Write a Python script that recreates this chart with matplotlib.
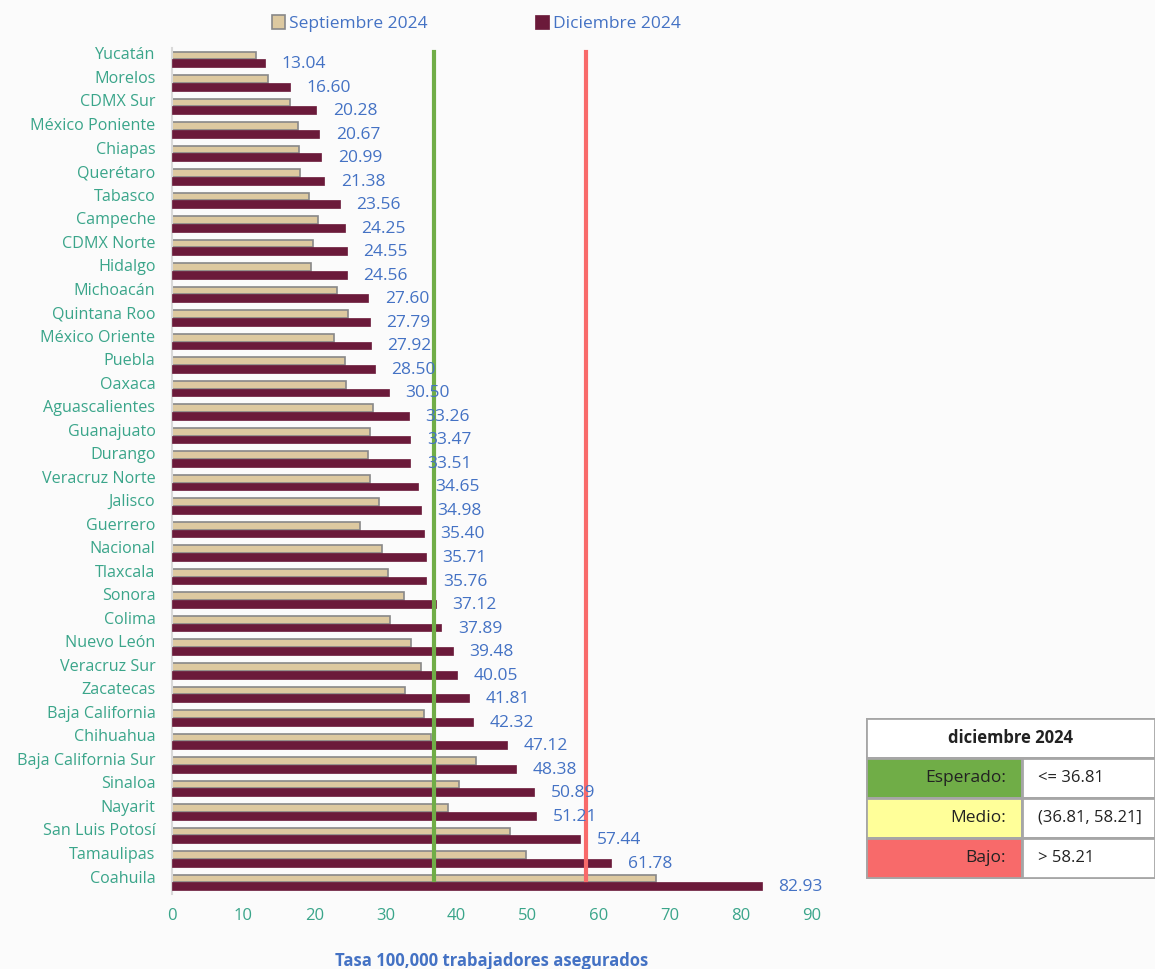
import numpy as np
import matplotlib.pyplot as plt
import matplotlib.transforms as mtransforms
from matplotlib.patches import Rectangle

plt.rcParams['font.family'] = ['Open Sans', 'DejaVu Sans']

estados = ["Yucatán", "Morelos", "CDMX Sur", "México Poniente", "Chiapas", "Querétaro",
           "Tabasco", "Campeche", "CDMX Norte", "Hidalgo", "Michoacán", "Quintana Roo",
           "México Oriente", "Puebla", "Oaxaca", "Aguascalientes", "Guanajuato", "Durango",
           "Veracruz Norte", "Jalisco", "Guerrero", "Nacional", "Tlaxcala", "Sonora",
           "Colima", "Nuevo León", "Veracruz Sur", "Zacatecas", "Baja California",
           "Chihuahua", "Baja California Sur", "Sinaloa", "Nayarit", "San Luis Potosí",
           "Tamaulipas", "Coahuila"]
sep_2024 = [11.8, 13.5, 16.6, 17.7, 17.9, 18.0, 19.3, 20.5, 19.8, 19.6, 23.2, 24.7,
            22.8, 24.3, 24.5, 28.2, 27.8, 27.6, 27.9, 29.1, 26.4, 29.5, 30.4, 32.6,
            30.7, 33.6, 35.0, 32.7, 35.4, 36.4, 42.8, 40.4, 38.8, 47.5, 49.8, 68.1]
dic_2024 = [13.04, 16.60, 20.28, 20.67, 20.99, 21.38, 23.56, 24.25, 24.55, 24.56,
            27.60, 27.79, 27.92, 28.50, 30.50, 33.26, 33.47, 33.51, 34.65, 34.98,
            35.40, 35.71, 35.76, 37.12, 37.89, 39.48, 40.05, 41.81, 42.32, 47.12,
            48.38, 50.89, 51.21, 57.44, 61.78, 82.93]
umbral_esperado = 36.81
umbral_bajo = 58.21
tabla_titulo = "diciembre 2024"
tabla_niveles = ["Esperado:", "Medio:", "Bajo:"]
tabla_rangos = ["<= 36.81", "(36.81, 58.21]", "> 58.21"]

c_sep = "#ddc9a0"
c_dic = "#6b1a3a"
c_teal = "#3aa58a"
c_blue = "#4472c4"
c_green = "#70ad47"
c_red = "#f86a6a"
c_yellow = "#ffff99"

fig = plt.figure(figsize=(11.55, 9.69), dpi=100)
fig.patch.set_facecolor("#fbfbfb")
ax = fig.add_axes([0.149, 0.0771, 0.554, 0.8737])
ax.set_facecolor("none")

y = np.arange(len(estados))
h = 0.33
ax.barh(y - 0.17, sep_2024, h, color=c_sep, edgecolor="#888888", linewidth=1.2,
        label="Septiembre 2024", zorder=2)
ax.barh(y + 0.16, dic_2024, h, color=c_dic, edgecolor=c_dic, linewidth=0.5,
        label="Diciembre 2024", zorder=3)

for yi, v in zip(y, dic_2024):
    ax.annotate(f"{v:.2f}", (v, yi + 0.2), xytext=(12, 0), textcoords="offset points",
                ha="left", va="center", color=c_blue, fontsize=12.5, zorder=5)

ax.axvline(umbral_esperado, ymin=0.017, ymax=0.995, color=c_green, lw=3, zorder=4)
ax.axvline(umbral_bajo, ymin=0.017, ymax=0.995, color=c_red, lw=3, zorder=4)

ax.set_xlim(0, 90)
ax.set_ylim(len(estados) - 0.5, -0.5)
ax.set_xticks(np.arange(0, 91, 10))
ax.set_yticks(y)
ax.set_yticklabels(estados)
ax.tick_params(axis="y", length=0, labelsize=11.6, labelcolor=c_teal, pad=12)
ax.tick_params(axis="x", length=0, labelsize=12, labelcolor=c_teal, pad=10)
off = mtransforms.ScaledTranslation(0, 0.06, fig.dpi_scale_trans)
for lab in ax.get_yticklabels():
    lab.set_transform(lab.get_transform() + off)
for s in ["top", "right", "bottom"]:
    ax.spines[s].set_visible(False)
ax.spines["left"].set_color("#d9d9d9")
ax.spines["left"].set_linewidth(1.5)
ax.set_xlabel("Tasa 100,000 trabajadores asegurados", color=c_blue, fontsize=12,
              fontweight="bold", labelpad=20)

leg = ax.legend(loc="lower center", bbox_to_anchor=(0.475, 1.0), ncol=2, frameon=False,
                fontsize=12.5, handlelength=0.8, handleheight=0.8, handletextpad=0.2,
                columnspacing=6.2)
for t in leg.get_texts():
    t.set_color(c_blue)

# tabla de umbrales
tax = fig.add_axes([866 / 1155, 1 - 879 / 969, 289 / 1155, 161 / 969])
tax.set_xlim(0, 289)
tax.set_ylim(161, 0)
tax.axis("off")
ec = "#a6a6a6"
tax.add_patch(Rectangle((0, 0), 289, 40, facecolor="white", edgecolor=ec, lw=2))
tax.text(144.5, 20, tabla_titulo, ha="center", va="center", fontsize=12,
         fontweight="bold", color="#222222")
for i, (nivel, rango, col) in enumerate(zip(tabla_niveles, tabla_rangos,
                                            [c_green, c_yellow, c_red])):
    y0 = 40 + i * 40
    tax.add_patch(Rectangle((0, y0), 156, 40, facecolor=col, edgecolor=ec, lw=2))
    tax.add_patch(Rectangle((156, y0), 133, 40, facecolor="white", edgecolor=ec, lw=2))
    tax.text(140, y0 + 20, nivel, ha="right", va="center", fontsize=12.5, color="#222222")
    tax.text(172, y0 + 20, rango, ha="left", va="center", fontsize=12, color="#222222")

fig.savefig("out.png", dpi=100, facecolor=fig.get_facecolor())
